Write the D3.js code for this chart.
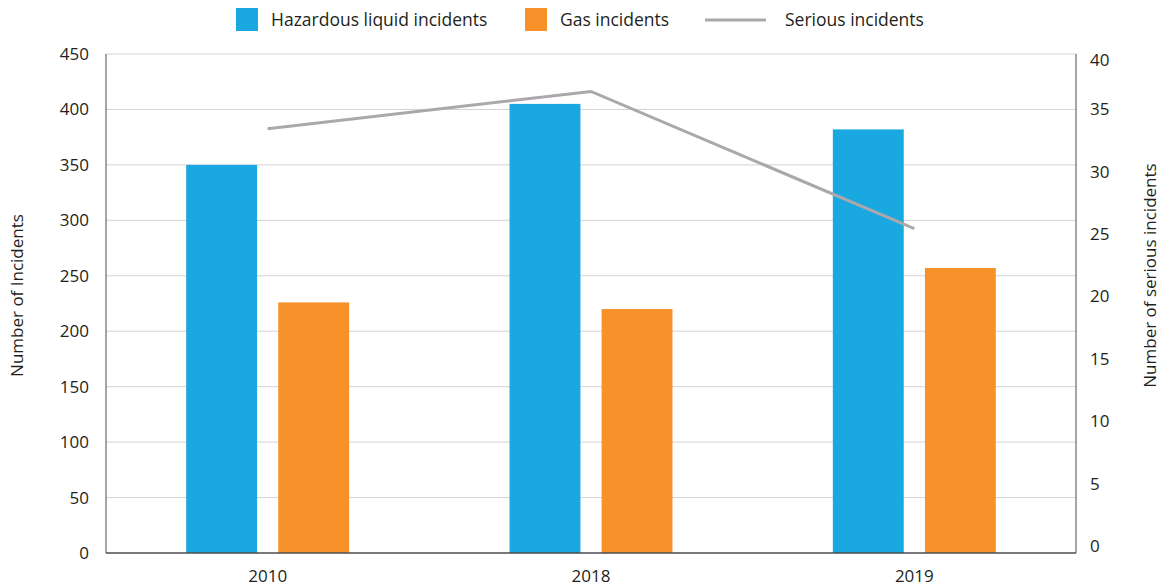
<!DOCTYPE html>
<html>
<head>
<meta charset="utf-8">
<script src="https://cdn.jsdelivr.net/npm/d3@7"></script>
<style>
  body { margin: 0; background: #fff; }
  svg text { font-family: "Open Sans", "Noto Sans", sans-serif; fill: #231f20; }
</style>
</head>
<body>
<div id="chart"></div>
<script>
const years = ['2010', '2018', '2019'];
const hazardous = [350, 405, 382];
const gas = [226, 220, 257];
const serious = [34, 37, 26];
const leftTicks = [0, 50, 100, 150, 200, 250, 300, 350, 400, 450];
const rightTicks = [0, 5, 10, 15, 20, 25, 30, 35, 40];

const width = 1161, height = 586;
const margin = {top: 54, right: 85, bottom: 33, left: 106};
const blue = '#19a8e0', orange = '#f7922b', grey = '#aaa8ab';

const svg = d3.select('#chart').append('svg')
  .attr('width', width).attr('height', height);

const x = d3.scaleBand()
  .domain(years)
  .range([margin.left, width - margin.right]);

const inner = d3.scaleBand()
  .domain(['haz', 'gas'])
  .range([x.bandwidth() * 0.248, x.bandwidth() * 0.752])
  .paddingInner(0.23);

const y = d3.scaleLinear().domain([0, 450]).range([height - margin.bottom, margin.top]);
const y2 = d3.scaleLinear().domain([0, 40]).range([height - margin.bottom, margin.top]);

// gridlines
svg.append('g')
  .selectAll('line')
  .data(leftTicks.filter(d => d > 0))
  .join('line')
  .attr('x1', margin.left).attr('x2', width - margin.right)
  .attr('y1', d => y(d)).attr('y2', d => y(d))
  .attr('stroke', '#d3d3d3').attr('stroke-width', 1);

// bars
const groups = svg.append('g').selectAll('g')
  .data(years.map((yr, i) => ({yr, haz: hazardous[i], gas: gas[i]})))
  .join('g')
  .attr('transform', d => `translate(${x(d.yr)},0)`);

groups.append('rect')
  .attr('x', inner('haz')).attr('width', inner.bandwidth())
  .attr('y', d => y(d.haz)).attr('height', d => y(0) - y(d.haz))
  .attr('fill', blue);

groups.append('rect')
  .attr('x', inner('gas')).attr('width', inner.bandwidth())
  .attr('y', d => y(d.gas)).attr('height', d => y(0) - y(d.gas))
  .attr('fill', orange);

// serious incidents line (right axis)
const line = d3.line()
  .x((d, i) => x(years[i]) + x.bandwidth() / 2)
  .y(d => y2(d));

svg.append('path')
  .datum(serious)
  .attr('d', line)
  .attr('fill', 'none')
  .attr('stroke', grey)
  .attr('stroke-width', 3);

// axes
const axisColor = '#4d4d4f';
svg.append('line')
  .attr('x1', margin.left).attr('x2', margin.left)
  .attr('y1', y(450)).attr('y2', y(0))
  .attr('stroke', axisColor);
svg.append('line')
  .attr('x1', width - margin.right).attr('x2', width - margin.right)
  .attr('y1', y(450)).attr('y2', y(0))
  .attr('stroke', axisColor);
svg.append('line')
  .attr('x1', margin.left).attr('x2', width - margin.right)
  .attr('y1', y(0)).attr('y2', y(0))
  .attr('stroke', axisColor).attr('stroke-width', 1.5);

const leftAxis = svg.append('g')
  .attr('transform', `translate(${margin.left},0)`)
  .call(d3.axisLeft(y).tickValues(leftTicks).tickSize(0).tickPadding(17));
leftAxis.select('.domain').remove();
leftAxis.selectAll('text').style('font-size', '17px');

// the source prints the right labels a little above their gridline
const rightAxis = svg.append('g')
  .attr('transform', `translate(${width - margin.right},0)`)
  .call(d3.axisRight(y2).tickValues(rightTicks).tickSize(0).tickPadding(14));
rightAxis.select('.domain').remove();
rightAxis.selectAll('text')
  .style('font-size', '17px')
  .attr('y', d => d === 40 ? 6 : -7);

const bottomAxis = svg.append('g')
  .attr('transform', `translate(0,${y(0)})`)
  .call(d3.axisBottom(x).tickSize(0).tickPadding(17));
bottomAxis.select('.domain').remove();
bottomAxis.selectAll('text').style('font-size', '17px');

// axis titles
svg.append('text')
  .attr('transform', `translate(23,${(y(0) + y(450)) / 2 - 8}) rotate(-90)`)
  .attr('text-anchor', 'middle')
  .style('font-size', '17px')
  .text('Number of Incidents');

svg.append('text')
  .attr('transform', `translate(1144,${(y(0) + y(450)) / 2 - 28}) rotate(-90)`)
  .attr('text-anchor', 'middle')
  .attr('dy', '0.7em')
  .style('font-size', '17px')
  .text('Number of serious incidents');

// legend
const legend = svg.append('g');
const legendItems = [
  {label: 'Hazardous liquid incidents', color: blue, type: 'rect', x: 236, tx: 271},
  {label: 'Gas incidents', color: orange, type: 'rect', x: 525, tx: 560},
  {label: 'Serious incidents', color: grey, type: 'line', x: 705, tx: 785}
];
legendItems.forEach(d => {
  if (d.type === 'rect') {
    legend.append('rect')
      .attr('x', d.x).attr('y', 8).attr('width', 22).attr('height', 23)
      .attr('fill', d.color);
  } else {
    legend.append('line')
      .attr('x1', d.x).attr('x2', d.x + 61)
      .attr('y1', 20).attr('y2', 20)
      .attr('stroke', d.color).attr('stroke-width', 3);
  }
  legend.append('text')
    .attr('x', d.tx).attr('y', 26)
    .style('font-size', '17.5px')
    .text(d.label);
});
</script>
</body>
</html>
